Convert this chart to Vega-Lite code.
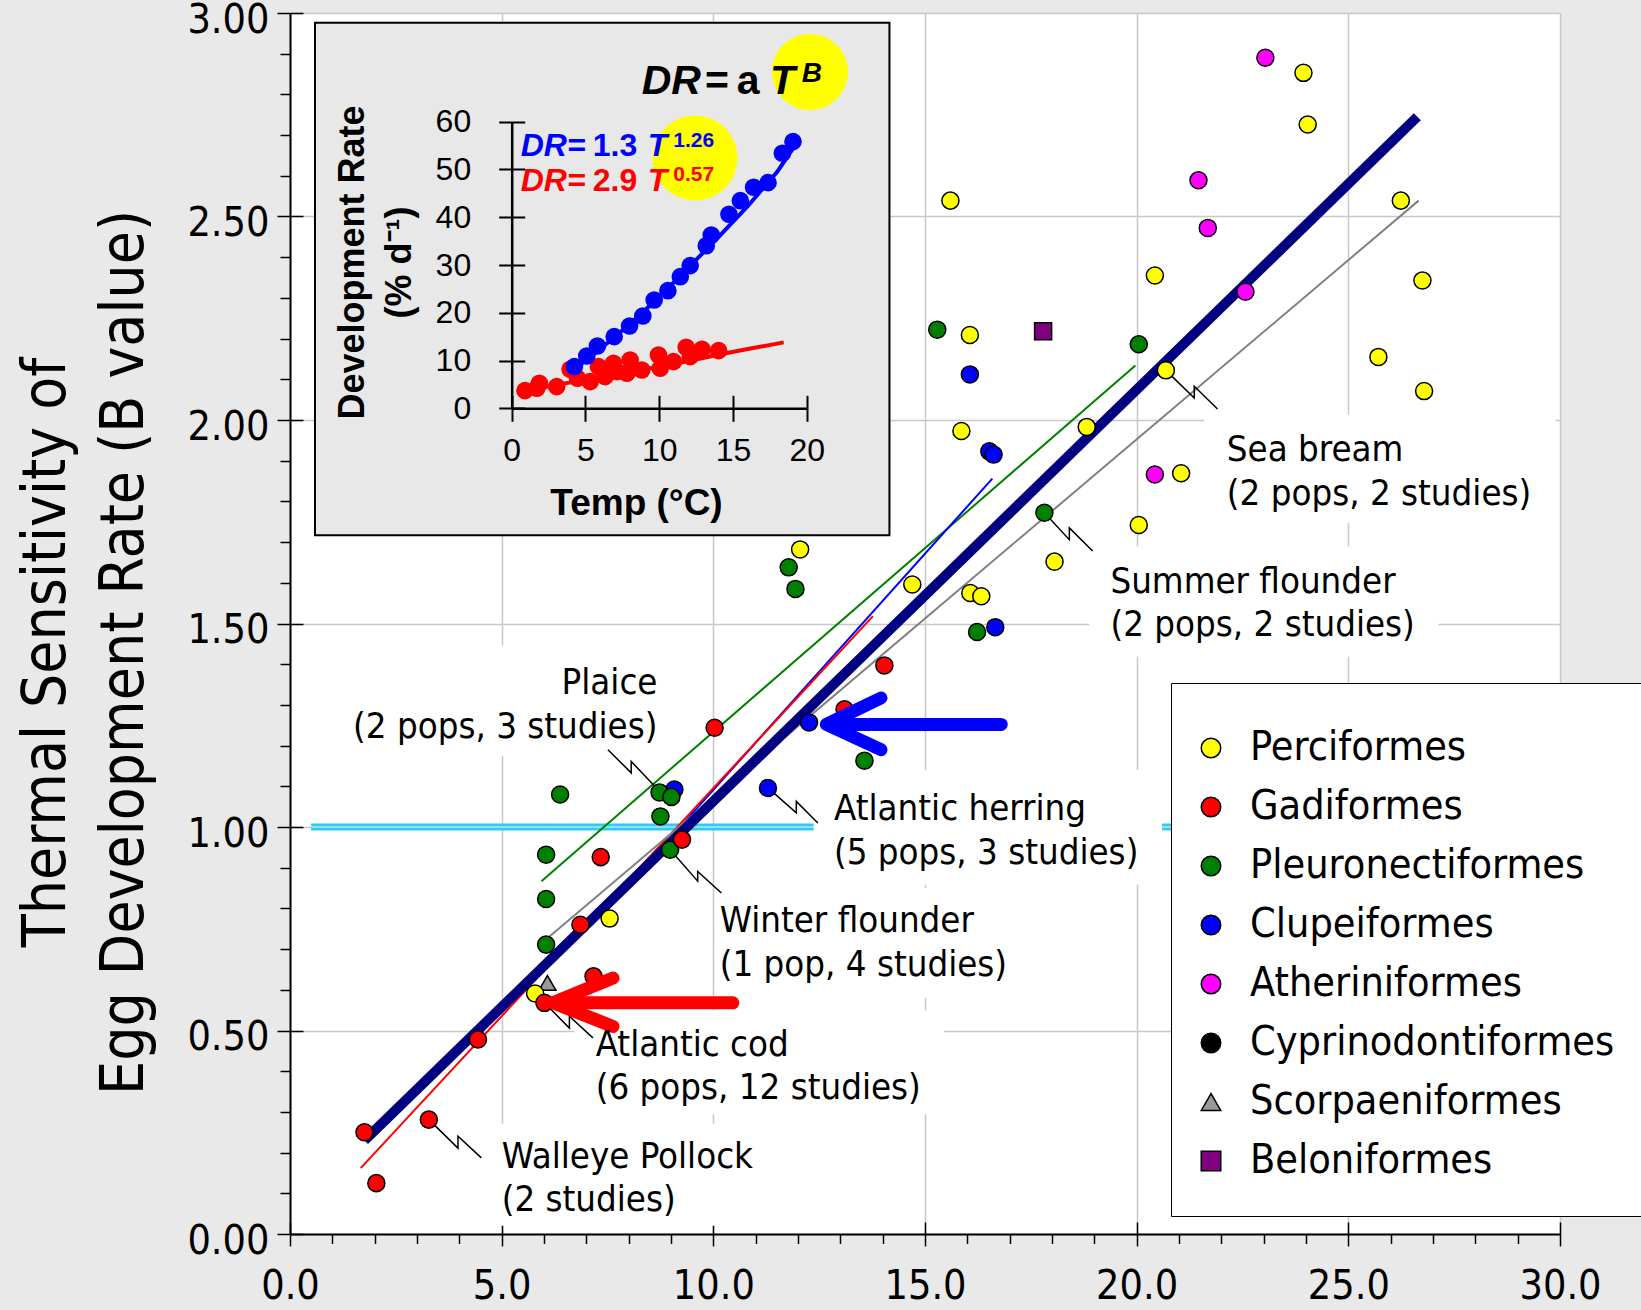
{
"$schema": "https://vega.github.io/schema/vega-lite/v6.json",
"width": 1270, "height": 1221,
"autosize": {"type": "none"},
"padding": {"left": 290, "top": 13, "right": 81, "bottom": 76},
"background": "#e9e9e9",
"config": {
 "view": {"fill": "white", "stroke": null},
 "legend": {"orient": "none", "legendX": 881, "legendY": 670, "fillColor": "white", "strokeColor": "black",
  "padding": 34.5, "rowPadding": 17, "titleFontSize": 4, "titlePadding": 6,
  "labelFont": "DejaVu Sans Condensed, DejaVu Sans", "labelFontSize": 41, "labelColor": "black",
  "labelOffset": 18.5, "symbolSize": 380, "symbolStrokeColor": "black", "symbolStrokeWidth": 1.5, "labelLimit": 800, "symbolOffset": -15}
},
"datasets": {
 "pts": [
  {"order":"Scorpaeniformes","x":6.08,"y":0.617},
  {"order":"Perciformes","x":15.60,"y":2.539},{"order":"Perciformes","x":23.94,"y":2.853},{"order":"Perciformes","x":24.04,"y":2.726},{"order":"Perciformes","x":26.24,"y":2.539},{"order":"Perciformes","x":26.75,"y":2.343},{"order":"Perciformes","x":25.71,"y":2.155},{"order":"Perciformes","x":26.79,"y":2.071},{"order":"Perciformes","x":20.43,"y":2.355},{"order":"Perciformes","x":20.69,"y":2.122},{"order":"Perciformes","x":16.06,"y":2.209},{"order":"Perciformes","x":15.86,"y":1.973},{"order":"Perciformes","x":18.82,"y":1.983},{"order":"Perciformes","x":20.05,"y":1.742},{"order":"Perciformes","x":21.05,"y":1.869},{"order":"Perciformes","x":18.06,"y":1.652},{"order":"Perciformes","x":14.70,"y":1.596},{"order":"Perciformes","x":16.07,"y":1.575},{"order":"Perciformes","x":16.33,"y":1.567},{"order":"Perciformes","x":12.05,"y":1.682},{"order":"Perciformes","x":7.55,"y":0.775},{"order":"Perciformes","x":5.79,"y":0.591},
  {"order":"Atheriniformes","x":23.04,"y":2.890},{"order":"Atheriniformes","x":21.46,"y":2.589},{"order":"Atheriniformes","x":21.68,"y":2.472},{"order":"Atheriniformes","x":22.57,"y":2.315},{"order":"Atheriniformes","x":20.43,"y":1.866},
  {"order":"Beloniformes","x":17.79,"y":2.218},
  {"order":"Clupeiformes","x":16.06,"y":2.112},{"order":"Clupeiformes","x":16.52,"y":1.923},{"order":"Clupeiformes","x":16.62,"y":1.915},{"order":"Clupeiformes","x":16.66,"y":1.491},{"order":"Clupeiformes","x":12.26,"y":1.257},{"order":"Clupeiformes","x":11.29,"y":1.096},{"order":"Clupeiformes","x":9.08,"y":1.092},
  {"order":"Pleuronectiformes","x":15.29,"y":2.222},{"order":"Pleuronectiformes","x":20.05,"y":2.186},{"order":"Pleuronectiformes","x":17.82,"y":1.772},{"order":"Pleuronectiformes","x":11.78,"y":1.638},{"order":"Pleuronectiformes","x":11.94,"y":1.585},{"order":"Pleuronectiformes","x":16.23,"y":1.479},{"order":"Pleuronectiformes","x":13.57,"y":1.163},{"order":"Pleuronectiformes","x":6.38,"y":1.080},{"order":"Pleuronectiformes","x":8.73,"y":1.085},{"order":"Pleuronectiformes","x":9.01,"y":1.074},{"order":"Pleuronectiformes","x":8.75,"y":1.026},{"order":"Pleuronectiformes","x":8.98,"y":0.944},{"order":"Pleuronectiformes","x":6.05,"y":0.932},{"order":"Pleuronectiformes","x":6.05,"y":0.823},{"order":"Pleuronectiformes","x":6.05,"y":0.711},
  {"order":"Gadiformes","x":10.03,"y":1.244},{"order":"Gadiformes","x":14.04,"y":1.397},{"order":"Gadiformes","x":13.10,"y":1.289},{"order":"Gadiformes","x":9.26,"y":0.969},{"order":"Gadiformes","x":7.34,"y":0.926},{"order":"Gadiformes","x":6.86,"y":0.760},{"order":"Gadiformes","x":7.17,"y":0.633},{"order":"Gadiformes","x":6.01,"y":0.568},{"order":"Gadiformes","x":4.44,"y":0.478},{"order":"Gadiformes","x":1.76,"y":0.250},{"order":"Gadiformes","x":3.28,"y":0.281},{"order":"Gadiformes","x":2.04,"y":0.125}
 ],
 "fits": [
  {"fit":"Pleuronectiformes","x":5.94,"y":0.867},{"fit":"Pleuronectiformes","x":19.97,"y":2.134},
  {"fit":"Clupeiformes","x":9.0,"y":0.975},{"fit":"Clupeiformes","x":16.59,"y":1.856},
  {"fit":"Gadiformes","x":1.67,"y":0.162},{"fit":"Gadiformes","x":13.77,"y":1.518},
  {"fit":"Other","x":6.13,"y":0.731},{"fit":"Other","x":26.66,"y":2.539}
 ],
 "allfit": [{"x":1.76,"y":0.23},{"x":26.63,"y":2.745}],
 "cyan": [{"x":0.5,"x2":21.0,"y":1.0}],
 "boxes": [
  {"x":21.6,"x2":29.9,"y":1.747,"y2":2.013},
  {"x":18.88,"x2":27.13,"y":1.419,"y2":1.69},
  {"x":12.37,"x2":20.6,"y":0.858,"y2":1.14},
  {"x":10.05,"x2":17.3,"y":0.58,"y2":0.85},
  {"x":6.72,"x2":15.45,"y":0.294,"y2":0.55},
  {"x":4.85,"x2":11.2,"y":0.02,"y2":0.271},
  {"x":1.3,"x2":8.9,"y":1.175,"y2":1.446}
 ],
 "insetbox": [{"x":0.59,"x2":14.16,"y":1.717,"y2":2.976}],
 "leaders": [
  {"id":"walleye","seq":0,"x":3.28,"y":0.281},{"id":"walleye","seq":1,"x":3.968,"y":0.211},{"id":"walleye","seq":2,"x":3.968,"y":0.240},{"id":"walleye","seq":3,"x":4.52,"y":0.187},
  {"id":"cod","seq":0,"x":6.01,"y":0.568},{"id":"cod","seq":1,"x":6.60,"y":0.506},{"id":"cod","seq":2,"x":6.60,"y":0.535},{"id":"cod","seq":3,"x":7.155,"y":0.482},
  {"id":"plaice","seq":0,"x":7.51,"y":1.190},{"id":"plaice","seq":1,"x":8.06,"y":1.133},{"id":"plaice","seq":2,"x":8.06,"y":1.161},{"id":"plaice","seq":3,"x":8.73,"y":1.088},
  {"id":"winter","seq":0,"x":8.98,"y":0.944},{"id":"winter","seq":1,"x":9.63,"y":0.867},{"id":"winter","seq":2,"x":9.63,"y":0.891},{"id":"winter","seq":3,"x":10.19,"y":0.838},
  {"id":"herring","seq":0,"x":11.29,"y":1.096},{"id":"herring","seq":1,"x":11.96,"y":1.035},{"id":"herring","seq":2,"x":11.96,"y":1.063},{"id":"herring","seq":3,"x":12.47,"y":1.010},
  {"id":"summer","seq":0,"x":17.82,"y":1.772},{"id":"summer","seq":1,"x":18.41,"y":1.706},{"id":"summer","seq":2,"x":18.41,"y":1.735},{"id":"summer","seq":3,"x":18.96,"y":1.678},
  {"id":"seabream","seq":0,"x":20.69,"y":2.122},{"id":"seabream","seq":1,"x":21.36,"y":2.054},{"id":"seabream","seq":2,"x":21.36,"y":2.083},{"id":"seabream","seq":3,"x":21.91,"y":2.027}
 ],
 "arrows": [
  {"target":"herring","part":"shaft","seq":0,"x":16.80,"y":1.252},{"target":"herring","part":"shaft","seq":1,"x":12.75,"y":1.252},
  {"target":"herring","part":"head","seq":0,"x":13.96,"y":1.317},{"target":"herring","part":"head","seq":1,"x":12.67,"y":1.252},{"target":"herring","part":"head","seq":2,"x":13.96,"y":1.190},
  {"target":"cod","part":"shaft","seq":0,"x":10.46,"y":0.568},{"target":"cod","part":"shaft","seq":1,"x":6.30,"y":0.568},
  {"target":"cod","part":"head","seq":0,"x":7.63,"y":0.629},{"target":"cod","part":"head","seq":1,"x":6.21,"y":0.568},{"target":"cod","part":"head","seq":2,"x":7.63,"y":0.510}
 ],
 "notes": [
  {"label":"Atlantic herring\n(5 pops, 3 studies)","x":12.85,"y":1.017},
  {"label":"Winter flounder\n(1 pop, 4 studies)","x":10.15,"y":0.741},
  {"label":"Atlantic cod\n(6 pops, 12 studies)","x":7.22,"y":0.438},
  {"label":"Walleye Pollock\n(2 studies)","x":5.0,"y":0.163},
  {"label":"Summer flounder\n(2 pops, 2 studies)","x":19.38,"y":1.575},
  {"label":"Sea bream\n(2 pops, 2 studies)","x":22.13,"y":1.899}
 ],
 "notesR": [{"label":"Plaice\n(2 pops, 3 studies)","x":8.68,"y":1.326}],
 "ins_pts": [
  {"series":"cod","T":0.90,"DR":3.70},{"series":"cod","T":1.70,"DR":4.19},{"series":"cod","T":1.88,"DR":5.23},{"series":"cod","T":3.05,"DR":4.54},{"series":"cod","T":3.96,"DR":8.16},{"series":"cod","T":4.46,"DR":6.28},{"series":"cod","T":5.32,"DR":5.58},{"series":"cod","T":5.88,"DR":8.72},{"series":"cod","T":6.33,"DR":6.63},{"series":"cod","T":6.90,"DR":9.42},{"series":"cod","T":7.13,"DR":7.68},{"series":"cod","T":8.03,"DR":10.12},{"series":"cod","T":7.81,"DR":7.33},{"series":"cod","T":8.82,"DR":8.02},{"series":"cod","T":9.95,"DR":11.17},{"series":"cod","T":10.07,"DR":8.37},{"series":"cod","T":10.97,"DR":9.77},{"series":"cod","T":11.83,"DR":12.77},{"series":"cod","T":12.10,"DR":10.82},{"series":"cod","T":12.90,"DR":12.35},{"series":"cod","T":14.03,"DR":12.07},
  {"series":"herring","T":4.25,"DR":8.72},{"series":"herring","T":5.09,"DR":10.96},{"series":"herring","T":5.81,"DR":13.05},{"series":"herring","T":6.95,"DR":15.0},{"series":"herring","T":7.99,"DR":17.24},{"series":"herring","T":8.89,"DR":19.33},{"series":"herring","T":9.66,"DR":22.68},{"series":"herring","T":10.59,"DR":24.63},{"series":"herring","T":11.43,"DR":27.56},{"series":"herring","T":12.10,"DR":29.87},{"series":"herring","T":13.19,"DR":34.05},{"series":"herring","T":13.53,"DR":36.29},{"series":"herring","T":14.73,"DR":40.61},{"series":"herring","T":15.50,"DR":43.47},{"series":"herring","T":16.40,"DR":46.27},{"series":"herring","T":17.38,"DR":47.24},{"series":"herring","T":18.35,"DR":53.38},{"series":"herring","T":19.07,"DR":55.83}
 ],
 "ins_fit": [
  {"series":"cod","T":0.45,"DR":3.2},{"series":"cod","T":2,"DR":4.3},{"series":"cod","T":5,"DR":6.0},{"series":"cod","T":8,"DR":7.6},{"series":"cod","T":10,"DR":8.7},{"series":"cod","T":12,"DR":9.9},{"series":"cod","T":14,"DR":11.2},{"series":"cod","T":16,"DR":12.4},{"series":"cod","T":18.44,"DR":13.8},
  {"series":"herring","T":4.2,"DR":8.0},{"series":"herring","T":6,"DR":12.4},{"series":"herring","T":8,"DR":17.6},{"series":"herring","T":10,"DR":23.3},{"series":"herring","T":12,"DR":29.5},{"series":"herring","T":14,"DR":35.8},{"series":"herring","T":16,"DR":42.3},{"series":"herring","T":18,"DR":49.5},{"series":"herring","T":19.1,"DR":54.5}
 ],
 "ins_circ": [{"c":"general","T":20.22,"DR":70.4},{"c":"fit","T":12.43,"DR":52.4}],
 "ins_eq": [
  {"series":"general","part":"var","txt":"DR","T":8.81,"DR":65.8},
  {"series":"general","part":"op","txt":"=","T":13.11,"DR":65.8},
  {"series":"general","part":"op","txt":"a","T":15.25,"DR":65.8},
  {"series":"general","part":"var","txt":"T","T":17.51,"DR":65.8},
  {"series":"general","part":"sup","txt":"B","T":19.66,"DR":68.37},
  {"series":"herring","part":"var","txt":"DR","T":0.61,"DR":52.82},
  {"series":"herring","part":"op","txt":"=","T":3.78,"DR":52.82},
  {"series":"herring","part":"op","txt":"1.3","T":5.5,"DR":52.82},
  {"series":"herring","part":"var","txt":"T","T":9.22,"DR":52.82},
  {"series":"herring","part":"sup","txt":"1.26","T":10.96,"DR":54.76},
  {"series":"cod","part":"var","txt":"DR","T":0.61,"DR":45.49},
  {"series":"cod","part":"op","txt":"=","T":3.78,"DR":45.49},
  {"series":"cod","part":"op","txt":"2.9","T":5.5,"DR":45.49},
  {"series":"cod","part":"var","txt":"T","T":9.22,"DR":45.49},
  {"series":"cod","part":"sup","txt":"0.57","T":10.96,"DR":47.58}
 ]
},
"layer": [
 {
  "layer": [
   {
    "data": {"name": "cyan"},
    "mark": {"type": "rule", "color": "#2ecbf3", "strokeWidth": 7},
    "encoding": {
     "x": {"field": "x", "type": "quantitative", "scale": {"domain": [0, 30], "nice": false, "zero": false},
      "axis": {"orient": "bottom", "values": [0,5,10,15,20,25,30], "format": ".1f", "title": null,
       "labelFont": "DejaVu Sans Condensed, DejaVu Sans", "labelFontSize": 41, "labelColor": "black", "labelPadding": 20, "labelFlush": false, "labelOverlap": false,
       "tickSize": 12, "tickColor": "black", "tickWidth": 1.5, "domainColor": "black", "domainWidth": 2,
       "grid": true, "gridColor": "#c8c8c8", "gridWidth": 1.5}},
     "x2": {"field": "x2"},
     "y": {"field": "y", "type": "quantitative", "scale": {"domain": [0, 3], "nice": false, "zero": false},
      "axis": {"orient": "left", "values": [0,0.5,1,1.5,2,2.5,3], "format": ".2f",
       "title": ["Thermal Sensitivity of", "Egg Development Rate (B value)"],
       "titleFont": "DejaVu Sans Condensed, DejaVu Sans", "titleFontSize": 60, "titleFontWeight": "normal", "titleColor": "black",
       "titleAngle": -90, "titleX": -226, "titleY": 639, "titleAlign": "center", "titleBaseline": "alphabetic", "titleLineHeight": 78,
       "labelFont": "DejaVu Sans Condensed, DejaVu Sans", "labelFontSize": 41, "labelColor": "black", "labelPadding": 8, "labelOffset": 7, "labelFlush": false, "labelOverlap": false,
       "tickSize": 13, "tickColor": "black", "tickWidth": 1.5, "domainColor": "black", "domainWidth": 2,
       "grid": true, "gridColor": "#c8c8c8", "gridWidth": 1.5}}
    }
   },
   {
    "data": {"name": "cyan"},
    "mark": {"type": "rule", "color": "#b5e6f6", "strokeWidth": 1.5},
    "encoding": {"x": {"field": "x", "type": "quantitative"}, "x2": {"field": "x2"}, "y": {"field": "y", "type": "quantitative"}}
   },
   {
    "data": {"name": "boxes"},
    "mark": {"type": "rect", "fill": "white"},
    "encoding": {"x": {"field": "x", "type": "quantitative"}, "x2": {"field": "x2"}, "y": {"field": "y", "type": "quantitative"}, "y2": {"field": "y2"}}
   },
   {
    "data": {"name": "insetbox"},
    "mark": {"type": "rect", "fill": "#e8e8e8", "stroke": "black", "strokeWidth": 2},
    "encoding": {"x": {"field": "x", "type": "quantitative"}, "x2": {"field": "x2"}, "y": {"field": "y", "type": "quantitative"}, "y2": {"field": "y2"}}
   },
   {
    "data": {"name": "fits"},
    "mark": {"type": "line", "strokeWidth": 2},
    "encoding": {"x": {"field": "x", "type": "quantitative"}, "y": {"field": "y", "type": "quantitative"},
     "detail": {"field": "fit"},
     "stroke": {"field": "fit", "type": "nominal", "legend": null,
      "scale": {"domain": ["Pleuronectiformes","Clupeiformes","Gadiformes","Other"], "range": ["#008000","#0000ff","#ff0000","#808080"]}}}
   },
   {
    "data": {"name": "allfit"},
    "mark": {"type": "line", "strokeWidth": 10, "color": "#000080"},
    "encoding": {"x": {"field": "x", "type": "quantitative"}, "y": {"field": "y", "type": "quantitative"}}
   },
   {
    "data": {"name": "leaders"},
    "mark": {"type": "line", "strokeWidth": 1.5, "color": "black"},
    "encoding": {"x": {"field": "x", "type": "quantitative"}, "y": {"field": "y", "type": "quantitative"},
     "detail": {"field": "id"}, "order": {"field": "seq"}}
   },
   {
    "data": {"name": "pts"},
    "mark": {"type": "point", "filled": true, "stroke": "black", "strokeWidth": 1.5, "opacity": 1, "size": 290},
    "encoding": {"x": {"field": "x", "type": "quantitative"}, "y": {"field": "y", "type": "quantitative"},
     "color": {"field": "order", "type": "nominal", "title": " ",
      "scale": {"domain": ["Perciformes","Gadiformes","Pleuronectiformes","Clupeiformes","Atheriniformes","Cyprinodontiformes","Scorpaeniformes","Beloniformes"],
       "range": ["#ffff00","#ff0000","#008000","#0000ff","#ff00ff","#000000","#999999","#800080"]}},
     "shape": {"field": "order", "type": "nominal", "title": " ",
      "scale": {"domain": ["Perciformes","Gadiformes","Pleuronectiformes","Clupeiformes","Atheriniformes","Cyprinodontiformes","Scorpaeniformes","Beloniformes"],
       "range": ["circle","circle","circle","circle","circle","circle","triangle-up","square"]}}}
   },
   {
    "data": {"name": "arrows"},
    "transform": [{"filter": "datum.target === 'herring'"}],
    "mark": {"type": "line", "strokeWidth": 13, "color": "#0000ff", "strokeCap": "round", "strokeJoin": "round"},
    "encoding": {"x": {"field": "x", "type": "quantitative"}, "y": {"field": "y", "type": "quantitative"},
     "detail": {"field": "part"}, "order": {"field": "seq"}}
   },
   {
    "data": {"name": "arrows"},
    "transform": [{"filter": "datum.target === 'cod'"}],
    "mark": {"type": "line", "strokeWidth": 13, "color": "#ff0000", "strokeCap": "round", "strokeJoin": "round"},
    "encoding": {"x": {"field": "x", "type": "quantitative"}, "y": {"field": "y", "type": "quantitative"},
     "detail": {"field": "part"}, "order": {"field": "seq"}}
   },
   {
    "data": {"name": "notes"},
    "mark": {"type": "text", "align": "left", "baseline": "alphabetic", "font": "DejaVu Sans Condensed, DejaVu Sans", "fontSize": 36.3, "color": "black", "lineBreak": "\n", "lineHeight": 43.5},
    "encoding": {"x": {"field": "x", "type": "quantitative"}, "y": {"field": "y", "type": "quantitative"}, "text": {"field": "label"}}
   },
   {
    "data": {"name": "notesR"},
    "mark": {"type": "text", "align": "right", "baseline": "alphabetic", "font": "DejaVu Sans Condensed, DejaVu Sans", "fontSize": 36.3, "color": "black", "lineBreak": "\n", "lineHeight": 43.5},
    "encoding": {"x": {"field": "x", "type": "quantitative"}, "y": {"field": "y", "type": "quantitative"}, "text": {"field": "label"}}
   }
  ]
 },
 {
  "data": {"name": "pts"},
  "mark": {"type": "point", "opacity": 0},
  "encoding": {
   "x": {"field": "x", "type": "quantitative", "scale": {"domain": [0, 30], "nice": false, "zero": false},
    "axis": {"orient": "bottom", "values": [1,2,3,4,6,7,8,9,11,12,13,14,16,17,18,19,21,22,23,24,26,27,28,29], "title": null, "labels": false, "domain": false, "grid": false, "tickSize": 9.5, "tickColor": "black", "tickWidth": 1.5}},
   "y": {"field": "y", "type": "quantitative", "scale": {"domain": [0, 3], "nice": false, "zero": false},
    "axis": {"orient": "left", "values": [0.1,0.2,0.3,0.4,0.6,0.7,0.8,0.9,1.1,1.2,1.3,1.4,1.6,1.7,1.8,1.9,2.1,2.2,2.3,2.4,2.6,2.7,2.8,2.9], "title": null, "labels": false, "domain": false, "grid": false, "tickSize": 10, "tickColor": "black", "tickWidth": 1.5}}
  }
 },
 {
  "data": {"name": "pts"},
  "mark": {"type": "point", "opacity": 0},
  "encoding": {
   "x": {"field": "x", "type": "quantitative", "scale": {"domain": [0, 30], "nice": false, "zero": false},
    "axis": {"orient": "bottom", "values": [0,5,10,15,20,25,30], "title": null, "labels": false, "domain": false, "grid": false, "tickSize": -12, "tickColor": "black", "tickWidth": 1.5}},
   "y": {"field": "y", "type": "quantitative", "scale": {"domain": [0, 3], "nice": false, "zero": false},
    "axis": {"orient": "left", "values": [0,0.5,1,1.5,2,2.5,3], "title": null, "labels": false, "domain": false, "grid": false, "tickSize": -13, "tickColor": "black", "tickWidth": 1.5}}
  }
 },
 {
  "layer": [
   {
    "data": {"name": "ins_circ"},
    "transform": [{"filter": "datum.c === 'general'"}],
    "mark": {"type": "point", "filled": true, "color": "#ffff00", "opacity": 1, "size": 5809},
    "encoding": {
     "x": {"field": "T", "type": "quantitative", "scale": {"domain": [0, 20], "range": [221.7, 516.7], "nice": false, "zero": false},
      "axis": {"orient": "bottom", "offset": -825.7, "values": [0,5,10,15,20], "format": "d", "title": "Temp (°C)",
       "titleFont": "Liberation Sans, Arial", "titleFontSize": 37, "titleFontWeight": "bold", "titleColor": "black",
       "titleX": 346, "titleY": 106, "titleAlign": "center", "titleBaseline": "alphabetic", "titleAngle": 0,
       "labelFont": "Liberation Sans, Arial", "labelFontSize": 32, "labelColor": "black", "labelPadding": 14, "labelFlush": false, "labelOverlap": false,
       "tickSize": 13, "tickColor": "black", "tickWidth": 2, "domainColor": "black", "domainWidth": 2.5, "grid": false, "zindex": 1}},
     "y": {"field": "DR", "type": "quantitative", "scale": {"domain": [0, 60], "range": [395.3, 108.7], "nice": false, "zero": false},
      "axis": {"orient": "left", "offset": -221.7, "values": [0,10,20,30,40,50,60], "format": "d", "title": ["Development Rate", "(% d⁻¹)"],
       "titleFont": "Liberation Sans, Arial", "titleFontSize": 36, "titleFontWeight": "bold", "titleColor": "black",
       "titleAngle": -90, "titleX": -148, "titleY": 249, "titleAlign": "center", "titleBaseline": "alphabetic", "titleLineHeight": 47,
       "labelFont": "Liberation Sans, Arial", "labelFontSize": 32, "labelColor": "black", "labelPadding": 28, "labelFlush": false, "labelOverlap": false,
       "tickSize": 13, "tickColor": "black", "tickWidth": 2, "domainColor": "black", "domainWidth": 2.5, "grid": false, "zindex": 1}}
    }
   },
   {
    "data": {"name": "ins_circ"},
    "transform": [{"filter": "datum.c === 'fit'"}],
    "mark": {"type": "point", "filled": true, "color": "#ffff00", "opacity": 1, "size": 7238},
    "encoding": {"x": {"field": "T", "type": "quantitative"}, "y": {"field": "DR", "type": "quantitative"}}
   },
   {
    "data": {"name": "ins_fit"},
    "transform": [{"filter": "datum.series === 'cod'"}],
    "mark": {"type": "line", "strokeWidth": 4, "color": "#ff0000"},
    "encoding": {"x": {"field": "T", "type": "quantitative"}, "y": {"field": "DR", "type": "quantitative"}}
   },
   {
    "data": {"name": "ins_pts"},
    "transform": [{"filter": "datum.series === 'cod'"}],
    "mark": {"type": "point", "filled": true, "color": "#ff0000", "opacity": 1, "size": 310},
    "encoding": {"x": {"field": "T", "type": "quantitative"}, "y": {"field": "DR", "type": "quantitative"}}
   },
   {
    "data": {"name": "ins_fit"},
    "transform": [{"filter": "datum.series === 'herring'"}],
    "mark": {"type": "line", "strokeWidth": 4, "color": "#0000ff"},
    "encoding": {"x": {"field": "T", "type": "quantitative"}, "y": {"field": "DR", "type": "quantitative"}}
   },
   {
    "data": {"name": "ins_pts"},
    "transform": [{"filter": "datum.series === 'herring'"}],
    "mark": {"type": "point", "filled": true, "color": "#0000ff", "opacity": 1, "size": 310},
    "encoding": {"x": {"field": "T", "type": "quantitative"}, "y": {"field": "DR", "type": "quantitative"}}
   },
   {
    "data": {"name": "ins_eq"},
    "transform": [{"filter": "datum.series === 'general' && datum.part === 'var'"}],
    "mark": {"type": "text", "align": "left", "baseline": "alphabetic", "font": "Liberation Sans, Arial", "fontSize": 41, "fontWeight": "bold", "fontStyle": "italic"},
    "encoding": {"x": {"field": "T", "type": "quantitative"}, "y": {"field": "DR", "type": "quantitative"}, "text": {"field": "txt"},
     "color": {"field": "series", "type": "nominal", "legend": null, "scale": {"domain": ["general","herring","cod"], "range": ["#000000","#0000ff","#ff0000"]}}}
   },
   {
    "data": {"name": "ins_eq"},
    "transform": [{"filter": "datum.series === 'general' && datum.part === 'op'"}],
    "mark": {"type": "text", "align": "left", "baseline": "alphabetic", "font": "Liberation Sans, Arial", "fontSize": 41, "fontWeight": "bold"},
    "encoding": {"x": {"field": "T", "type": "quantitative"}, "y": {"field": "DR", "type": "quantitative"}, "text": {"field": "txt"},
     "color": {"field": "series", "type": "nominal", "legend": null}}
   },
   {
    "data": {"name": "ins_eq"},
    "transform": [{"filter": "datum.series === 'general' && datum.part === 'sup'"}],
    "mark": {"type": "text", "align": "left", "baseline": "alphabetic", "font": "Liberation Sans, Arial", "fontSize": 28, "fontWeight": "bold", "fontStyle": "italic"},
    "encoding": {"x": {"field": "T", "type": "quantitative"}, "y": {"field": "DR", "type": "quantitative"}, "text": {"field": "txt"},
     "color": {"field": "series", "type": "nominal", "legend": null}}
   },
   {
    "data": {"name": "ins_eq"},
    "transform": [{"filter": "datum.series !== 'general' && datum.part === 'var'"}],
    "mark": {"type": "text", "align": "left", "baseline": "alphabetic", "font": "Liberation Sans, Arial", "fontSize": 32, "fontWeight": "bold", "fontStyle": "italic"},
    "encoding": {"x": {"field": "T", "type": "quantitative"}, "y": {"field": "DR", "type": "quantitative"}, "text": {"field": "txt"},
     "color": {"field": "series", "type": "nominal", "legend": null}}
   },
   {
    "data": {"name": "ins_eq"},
    "transform": [{"filter": "datum.series !== 'general' && datum.part === 'op'"}],
    "mark": {"type": "text", "align": "left", "baseline": "alphabetic", "font": "Liberation Sans, Arial", "fontSize": 32, "fontWeight": "bold"},
    "encoding": {"x": {"field": "T", "type": "quantitative"}, "y": {"field": "DR", "type": "quantitative"}, "text": {"field": "txt"},
     "color": {"field": "series", "type": "nominal", "legend": null}}
   },
   {
    "data": {"name": "ins_eq"},
    "transform": [{"filter": "datum.series !== 'general' && datum.part === 'sup'"}],
    "mark": {"type": "text", "align": "left", "baseline": "alphabetic", "font": "Liberation Sans, Arial", "fontSize": 21, "fontWeight": "bold"},
    "encoding": {"x": {"field": "T", "type": "quantitative"}, "y": {"field": "DR", "type": "quantitative"}, "text": {"field": "txt"},
     "color": {"field": "series", "type": "nominal", "legend": null}}
   }
  ]
 },
 {
  "data": {"name": "ins_pts"},
  "mark": {"type": "point", "opacity": 0},
  "encoding": {
   "x": {"field": "T", "type": "quantitative", "scale": {"domain": [0, 20], "range": [221.7, 516.7], "nice": false, "zero": false},
    "axis": {"orient": "bottom", "offset": -825.7, "values": [0,5,10,15,20], "title": null, "labels": false, "domain": false, "grid": false, "tickSize": -13, "tickColor": "black", "tickWidth": 2, "zindex": 1}},
   "y": {"field": "DR", "type": "quantitative", "scale": {"domain": [0, 60], "range": [395.3, 108.7], "nice": false, "zero": false},
    "axis": {"orient": "left", "offset": -221.7, "values": [0,10,20,30,40,50,60], "title": null, "labels": false, "domain": false, "grid": false, "tickSize": -13, "tickColor": "black", "tickWidth": 2, "zindex": 1}}
  }
 }
],
"resolve": {"scale": {"x": "independent", "y": "independent", "color": "independent", "shape": "independent", "stroke": "independent"}}
}
